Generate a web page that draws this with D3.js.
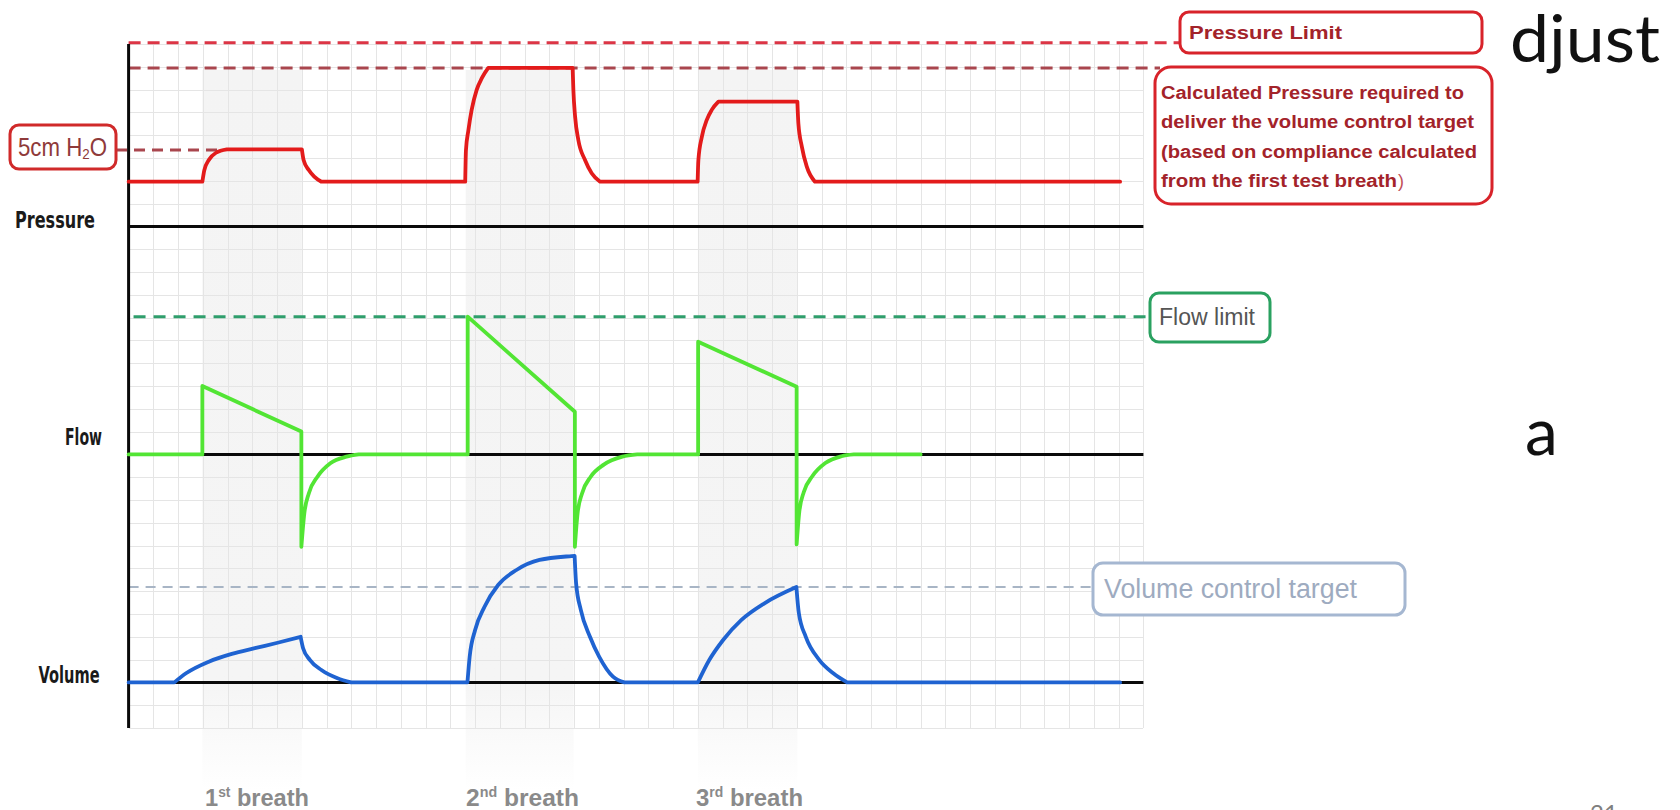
<!DOCTYPE html>
<html><head><meta charset="utf-8">
<script src="https://cdn.jsdelivr.net/npm/d3@7"></script>
<style>
html,body{margin:0;padding:0;background:#fff;overflow:hidden;}
svg{display:block;}
</style></head>
<body>
<svg id="chart" width="1680" height="810"></svg>
<script>
// ================= DATA (units = grid cells) =================
const panelNames = ["Pressure", "Flow", "Volume"];
const breathNums = ["1", "2", "3"];
const breathSups = ["st", "nd", "rd"];
const breathStart = [2.98, 13.62, 23.0];
const breathEnd = [7.0, 17.98, 27.02];

const pressureLimit = 8.05;
const calcPressure = 6.95;
const testPressure = 3.35;
const flowLimit = 6.04;
const volumeTarget = 4.18;

// pressure trace, piecewise segments of [time, value]
const pressureSegments = [
  [[0, 1.96], [2.98, 1.96]],
  [[2.98, 1.96], [3.06, 2.47], [3.24, 2.91], [3.53, 3.23], [3.97, 3.38]],
  [[3.97, 3.38], [7.0, 3.38]],
  [[7.0, 3.38], [7.07, 2.91], [7.28, 2.47], [7.5, 2.18], [7.79, 1.96]],
  [[7.79, 1.96], [13.6, 1.96]],
  [[13.6, 1.96], [13.63, 3.35], [13.73, 4.23], [13.86, 5.11], [14.06, 5.98], [14.27, 6.5], [14.53, 6.95]],
  [[14.53, 6.95], [17.94, 6.95]],
  [[17.94, 6.95], [17.97, 5.98], [18.04, 4.81], [18.17, 3.79], [18.44, 2.91], [18.71, 2.33], [19.05, 1.96]],
  [[19.05, 1.96], [22.99, 1.96]],
  [[22.99, 1.96], [23.02, 2.91], [23.16, 3.93], [23.36, 4.67], [23.56, 5.11], [23.83, 5.47]],
  [[23.83, 5.47], [27.02, 5.47]],
  [[27.02, 5.47], [27.06, 4.52], [27.2, 3.5], [27.4, 2.62], [27.73, 1.96]],
  [[27.73, 1.96], [40.06, 1.96]]
];

// flow trace
const flowSegments = [
  [[0, 0], [2.98, 0]],
  [[2.98, 0], [2.98, 3.0]],
  [[2.98, 3.0], [6.98, 1.0]],
  [[6.98, 1.0], [6.98, -4.05]],
  [[6.98, -4.05], [7.1, -2.58], [7.28, -1.71], [7.63, -0.98], [8.15, -0.39], [8.8, -0.1], [9.3, 0]],
  [[9.3, 0], [13.7, 0]],
  [[13.7, 0], [13.7, 6.04]],
  [[13.7, 6.04], [18.03, 1.87]],
  [[18.03, 1.87], [18.03, -4.05]],
  [[18.03, -4.05], [18.14, -2.58], [18.32, -1.71], [18.67, -0.98], [19.2, -0.45], [19.95, -0.1], [20.55, 0]],
  [[20.55, 0], [23.01, 0]],
  [[23.01, 0], [23.01, 4.94]],
  [[23.01, 4.94], [26.99, 2.97]],
  [[26.99, 2.97], [26.99, -3.95]],
  [[26.99, -3.95], [27.1, -2.5], [27.28, -1.65], [27.63, -0.95], [28.15, -0.38], [28.8, -0.08], [29.3, 0]],
  [[29.3, 0], [32.0, 0]]
];

// volume trace
const volumeSegments = [
  [[0, 0], [1.85, 0]],
  [[1.85, 0], [2.32, 0.4], [3.24, 0.91], [4.17, 1.25], [5.1, 1.5], [6.02, 1.74], [6.95, 2.0]],
  [[6.95, 2.0], [7.05, 1.5], [7.33, 0.98], [7.79, 0.54], [8.44, 0.18], [8.99, 0]],
  [[8.99, 0], [13.69, 0]],
  [[13.69, 0], [13.78, 1.13], [14.0, 2.3], [14.38, 3.32], [14.93, 4.27], [15.67, 4.93], [16.6, 5.37], [17.9, 5.54], [18.02, 5.55]],
  [[18.02, 5.55], [18.08, 4.35], [18.27, 3.18], [18.64, 2.0], [19.01, 1.13], [19.57, 0.25], [20.03, 0]],
  [[20.03, 0], [23.0, 0]],
  [[23.0, 0], [23.46, 0.98], [24.02, 1.86], [24.76, 2.74], [25.69, 3.47], [26.98, 4.18]],
  [[26.98, 4.18], [27.08, 3.03], [27.36, 2.0], [27.91, 0.98], [28.47, 0.4], [29.03, 0]],
  [[29.03, 0], [40.06, 0]]
];

const pressureLimitLabel = "Pressure Limit";
const calcLabelLines = ["Calculated Pressure required to", "deliver the volume control target", "(based on compliance calculated", "from the first test breath"];
const flowLimitLabel = "Flow limit";
const volumeTargetLabel = "Volume control target";
const slideTexts = ["djust", "a", "21"];

// ================= LAYOUT =================
const svg = d3.select("#chart");
const gridCols = 41, gridRows = 30;
const x = d3.scaleLinear().domain([0, gridCols]).range([128.6, 1143.4]);
const row = d3.scaleLinear().domain([0, gridRows]).range([728, 44]);
const panelRows = [22, 12, 2];
const yScales = panelRows.map(r => d3.scaleLinear().domain([-r, gridRows - r]).range([728, 44]));
const [yP, yF, yV] = yScales;

// defs
const defs = svg.append("defs");
const grad = defs.append("linearGradient").attr("id", "shade")
  .attr("gradientUnits", "userSpaceOnUse").attr("x1", 0).attr("x2", 0).attr("y1", 70).attr("y2", 790);
grad.append("stop").attr("offset", 0).attr("stop-color", "#f4f4f4");
grad.append("stop").attr("offset", 0.85).attr("stop-color", "#f5f5f5");
grad.append("stop").attr("offset", 1).attr("stop-color", "#ffffff");

// breath shading
svg.append("g").selectAll("rect").data(breathStart).join("rect")
  .attr("x", (d) => x(d)).attr("width", (d, i) => x(breathEnd[i]) - x(d))
  .attr("y", 70).attr("height", 720).attr("fill", "url(#shade)");

// grid via axes
const gGridX = svg.append("g").attr("transform", `translate(0,${row(0)})`)
  .call(d3.axisBottom(x).tickValues(d3.range(0, gridCols + 1)).tickSize(-(row(0) - row(gridRows))).tickFormat(""));
const gGridY = svg.append("g").attr("transform", `translate(${x(0)},0)`)
  .call(d3.axisLeft(row).tickValues(d3.range(0, gridRows + 1)).tickSize(-(x(gridCols) - x(0))).tickFormat(""));
[gGridX, gGridY].forEach(g => {
  g.select(".domain").remove();
  g.selectAll(".tick line").attr("stroke", "#e5e5e5").attr("stroke-width", 1).attr("shape-rendering", "crispEdges");
});

// dashed reference lines
function dashed(x1, x2, y, color, w, dash) {
  svg.append("line").attr("x1", x1).attr("x2", x2).attr("y1", y).attr("y2", y)
    .attr("stroke", color).attr("stroke-width", w).attr("stroke-dasharray", dash);
}
dashed(x(0), 1180, yP(pressureLimit), "#dc3545", 3, "12,7");
dashed(x(0), 1160, yP(calcPressure), "#a9464e", 3, "12,7");
dashed(116, x(3.65), yP(testPressure), "#a9464e", 3, "11,7");
dashed(x(0.2), 1150, yF(flowLimit), "#2f9e6c", 3, "12,8");
dashed(x(0), 1093, yV(volumeTarget), "#a8b5c5", 2, "10,7");

// black axes
const axG = svg.append("g");
yScales.forEach(ys => {
  axG.append("line").attr("x1", x(0)).attr("x2", x(gridCols)).attr("y1", ys(0)).attr("y2", ys(0))
    .attr("stroke", "#0a0a0a").attr("stroke-width", 3);
});
axG.append("line").attr("x1", x(0)).attr("x2", x(0)).attr("y1", row(gridRows)).attr("y2", row(0))
  .attr("stroke", "#0a0a0a").attr("stroke-width", 3);

// traces
function segPath(segs, ys) {
  const line = d3.line().x(d => x(d[0])).y(d => ys(d[1])).curve(d3.curveMonotoneX);
  return segs.map((s, i) => { const p = line(s); return i ? p.replace(/^M/, "L") : p; }).join("");
}
const traceStyle = (p, color) => p.attr("fill", "none").attr("stroke", color).attr("stroke-width", 3.8)
  .attr("stroke-linejoin", "round").attr("stroke-linecap", "round");
traceStyle(svg.append("path").attr("d", segPath(pressureSegments, yP)), "#e31b1b");
traceStyle(svg.append("path").attr("d", segPath(flowSegments, yF)), "#52e534");
traceStyle(svg.append("path").attr("d", segPath(volumeSegments, yV)), "#1f63d1");

// annotation boxes
function box(x0, y0, w, h, r, color) {
  svg.append("rect").attr("x", x0).attr("y", y0).attr("width", w).attr("height", h).attr("rx", r)
    .attr("fill", "#fff").attr("stroke", color).attr("stroke-width", 3);
}
const sans = "'Liberation Sans', Arial, sans-serif";
const narrow = "'Liberation Sans Narrow', 'Liberation Sans', Arial, sans-serif";

// Pressure limit
box(1180, 12, 302, 41, 9, "#d8232a");
svg.append("text").attr("x", 1189).attr("y", 39).attr("font-family", sans).attr("font-weight", "bold")
  .attr("font-size", 18).attr("fill", "#a3232a").attr("textLength", 153).attr("lengthAdjust", "spacingAndGlyphs")
  .text(pressureLimitLabel);

// Calculated pressure
box(1155, 67, 337, 137, 16, "#d8232a");
const calcLens = [303, 313, 316, 236];
calcLabelLines.forEach((t, i) => {
  svg.append("text").attr("x", 1161).attr("y", 99 + i * 29.3).attr("font-family", sans)
    .attr("font-weight", "bold").attr("font-size", 18).attr("fill", "#a3232a")
    .attr("textLength", calcLens[i]).attr("lengthAdjust", "spacingAndGlyphs").text(t);
  if (i === 3) {
    svg.append("text").attr("x", 1161 + calcLens[i] + 1).attr("y", 99 + i * 29.3).attr("font-family", sans)
      .attr("font-size", 18).attr("fill", "#c25058").text(")");
  }
});

// 5cm H2O
box(10, 125, 106, 44, 9, "#d02a2a");
const t5 = svg.append("text").attr("x", 18).attr("y", 156).attr("font-family", narrow)
  .attr("font-size", 25).attr("fill", "#8f3a3a").attr("textLength", 89).attr("lengthAdjust", "spacingAndGlyphs");
t5.append("tspan").text("5cm H");
t5.append("tspan").attr("font-size", 15).attr("dy", 3).text("2");
t5.append("tspan").attr("dy", -3).text("O");

// Flow limit
box(1150, 293, 120, 49, 9, "#2aa160");
svg.append("text").attr("x", 1159).attr("y", 325).attr("font-family", narrow).attr("font-size", 23)
  .attr("fill", "#555").attr("textLength", 96).attr("lengthAdjust", "spacingAndGlyphs").text(flowLimitLabel);

// Volume control target
box(1093, 563, 312, 52, 10, "#a5b7d1");
svg.append("text").attr("x", 1104).attr("y", 598).attr("font-family", narrow).attr("font-size", 27)
  .attr("fill", "#9eabc0").attr("textLength", 253).attr("lengthAdjust", "spacingAndGlyphs").text(volumeTargetLabel);

// panel labels
const labelPos = [[15, 228, 80], [65, 445, 37], [38.6, 683, 61]];
panelNames.forEach((n, i) => {
  svg.append("text").attr("x", labelPos[i][0]).attr("y", labelPos[i][1])
    .attr("font-family", "'DejaVu Sans Condensed', 'DejaVu Sans', sans-serif").attr("font-stretch", "condensed")
    .attr("font-weight", "bold").attr("font-size", 23).attr("fill", "#1a1a1a")
    .attr("textLength", labelPos[i][2]).attr("lengthAdjust", "spacingAndGlyphs").text(n);
});

// breath labels
const breathLabelX = [205, 466, 696];
const breathLabelW = [104, 113, 107];
breathNums.forEach((n, i) => {
  const t = svg.append("text").attr("x", breathLabelX[i]).attr("y", 806).attr("font-family", sans)
    .attr("font-weight", "bold").attr("font-size", 24).attr("fill", "#8a8a8a")
    .attr("textLength", breathLabelW[i]).attr("lengthAdjust", "spacingAndGlyphs");
  t.append("tspan").text(n);
  t.append("tspan").attr("font-size", 14).attr("dy", -9).text(breathSups[i]);
  t.append("tspan").attr("dy", 9).text(" breath");
});

// slide text fragments
svg.append("text").attr("x", 1510).attr("y", 62).attr("font-family", "Lato, 'Open Sans', sans-serif")
  .attr("font-size", 66).attr("fill", "#111").attr("textLength", 150).attr("lengthAdjust", "spacingAndGlyphs").text(slideTexts[0]);
svg.append("text").attr("x", 1525).attr("y", 455).attr("font-family", "Lato, 'Open Sans', sans-serif")
  .attr("font-size", 66).attr("fill", "#111").text(slideTexts[1]);
svg.append("text").attr("x", 1590).attr("y", 822).attr("font-family", "Lato, 'Open Sans', sans-serif")
  .attr("font-size", 24).attr("fill", "#7f7f7f").text(slideTexts[2]);
</script>
</body></html>
